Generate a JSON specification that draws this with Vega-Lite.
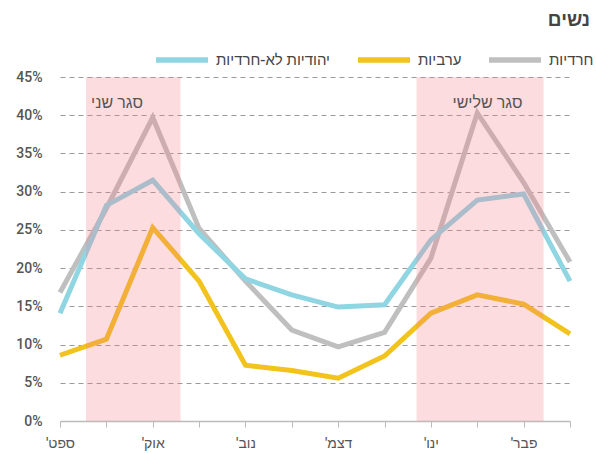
{
  "$schema": "https://vega.github.io/schema/vega-lite/v6.json",
  "width": 510,
  "height": 344,
  "autosize": {"type": "none"},
  "padding": {"left": 60, "top": 77, "right": 26, "bottom": 32},
  "background": "white",
  "title": {
    "text": "נשים",
    "anchor": "end",
    "frame": "group",
    "orient": "top",
    "fontSize": 19,
    "fontWeight": "bold",
    "color": "#444",
    "font": "Roboto, Liberation Sans, sans-serif",
    "dx": 20,
    "offset": 12,
    "dy": 11
  },
  "config": {
    "view": {"stroke": null},
    "font": "Roboto, Liberation Sans, sans-serif"
  },
  "datasets": {
    "series": [
      {"t": 0, "group": "חרדיות", "value": 16.8},
      {"t": 1, "group": "חרדיות", "value": 27.8},
      {"t": 2, "group": "חרדיות", "value": 39.7},
      {"t": 3, "group": "חרדיות", "value": 25.2},
      {"t": 4, "group": "חרדיות", "value": 18.3},
      {"t": 5, "group": "חרדיות", "value": 11.9},
      {"t": 6, "group": "חרדיות", "value": 9.7},
      {"t": 7, "group": "חרדיות", "value": 11.6},
      {"t": 8, "group": "חרדיות", "value": 21.3},
      {"t": 9, "group": "חרדיות", "value": 40.3},
      {"t": 10, "group": "חרדיות", "value": 31.2},
      {"t": 11, "group": "חרדיות", "value": 20.8},
      {"t": 0, "group": "יהודיות לא-חרדיות", "value": 14.1},
      {"t": 1, "group": "יהודיות לא-חרדיות", "value": 28.2},
      {"t": 2, "group": "יהודיות לא-חרדיות", "value": 31.5},
      {"t": 3, "group": "יהודיות לא-חרדיות", "value": 24.5},
      {"t": 4, "group": "יהודיות לא-חרדיות", "value": 18.6},
      {"t": 5, "group": "יהודיות לא-חרדיות", "value": 16.5},
      {"t": 6, "group": "יהודיות לא-חרדיות", "value": 14.9},
      {"t": 7, "group": "יהודיות לא-חרדיות", "value": 15.2},
      {"t": 8, "group": "יהודיות לא-חרדיות", "value": 23.7},
      {"t": 9, "group": "יהודיות לא-חרדיות", "value": 28.9},
      {"t": 10, "group": "יהודיות לא-חרדיות", "value": 29.7},
      {"t": 11, "group": "יהודיות לא-חרדיות", "value": 18.3},
      {"t": 0, "group": "ערביות", "value": 8.6},
      {"t": 1, "group": "ערביות", "value": 10.7},
      {"t": 2, "group": "ערביות", "value": 25.3},
      {"t": 3, "group": "ערביות", "value": 18.3},
      {"t": 4, "group": "ערביות", "value": 7.3},
      {"t": 5, "group": "ערביות", "value": 6.6},
      {"t": 6, "group": "ערביות", "value": 5.6},
      {"t": 7, "group": "ערביות", "value": 8.5},
      {"t": 8, "group": "ערביות", "value": 14.1},
      {"t": 9, "group": "ערביות", "value": 16.5},
      {"t": 10, "group": "ערביות", "value": 15.3},
      {"t": 11, "group": "ערביות", "value": 11.4}
    ],
    "bands": [
      {"t": 0.56, "t2": 2.6, "value": 0, "value2": 45},
      {"t": 7.69, "t2": 10.43, "value": 0, "value2": 45}
    ],
    "notes": [
      {"t": 1.23, "value": 41.6, "label": "סגר שני"},
      {"t": 9.22, "value": 41.6, "label": "סגר שלישי"}
    ]
  },
  "encoding": {
    "x": {
      "field": "t",
      "type": "quantitative",
      "scale": {"domain": [0, 11], "nice": false, "zero": false},
      "axis": {
        "title": null,
        "values": [0, 1, 2, 3, 4, 5, 6, 7, 8, 9, 10, 11],
        "labelExpr": "datum.value % 2 == 0 ? [\"ספט'\u200f\", \"אוק'\u200f\", \"נוב'\u200f\", \"דצמ'\u200f\", \"ינו'\u200f\", \"פבר'\u200f\"][datum.value / 2] : ''",
        "grid": false,
        "domainColor": "#bbbbbb",
        "domainWidth": 1.5,
        "tickColor": "#bbbbbb",
        "tickSize": 6,
        "tickWidth": 1,
        "labelFontSize": 14,
        "labelFontWeight": 500,
        "labelColor": "#555555",
        "labelPadding": 9,
        "labelFlush": false,
        "labelOverlap": false
      }
    },
    "y": {
      "field": "value",
      "type": "quantitative",
      "scale": {"domain": [0, 45], "nice": false, "zero": true},
      "axis": {
        "title": null,
        "values": [0, 5, 10, 15, 20, 25, 30, 35, 40, 45],
        "labelExpr": "datum.value + '%'",
        "labelOverlap": false,
        "labelFlush": false,
        "domain": false,
        "ticks": false,
        "grid": true,
        "gridColor": "#9a9a9a",
        "gridDash": [5, 4],
        "gridWidth": 1,
        "labelFontSize": 14,
        "labelFontWeight": 500,
        "labelColor": "#555555",
        "labelPadding": 18
      }
    }
  },
  "layer": [
    {
      "data": {"name": "series"},
      "mark": {"type": "line", "strokeWidth": 5, "strokeJoin": "miter"},
      "encoding": {
        "color": {
          "field": "group",
          "type": "nominal",
          "scale": {
            "domain": ["יהודיות לא-חרדיות", "ערביות", "חרדיות"],
            "range": ["#8fd5e2", "#f1c31c", "#bfbfbf"]
          },
          "legend": {
            "title": null,
            "orient": "none",
            "direction": "horizontal",
            "legendX": 93,
            "legendY": -46,
            "symbolType": "stroke",
            "symbolSize": 2700,
            "symbolStrokeWidth": 5.5,
            "labelFontSize": 15,
            "labelFontWeight": 500,
            "labelColor": "#444444",
            "labelOffset": 5,
            "columnPadding": 16
          }
        }
      }
    },
    {
      "data": {"name": "bands"},
      "mark": {"type": "rect", "color": "#f77d89", "opacity": 0.27},
      "encoding": {
        "x2": {"field": "t2"},
        "y2": {"field": "value2"}
      }
    },
    {
      "data": {"name": "notes"},
      "mark": {"type": "text", "fontSize": 16, "fontWeight": 500, "color": "#555555", "align": "center", "baseline": "middle"},
      "encoding": {
        "text": {"field": "label"}
      }
    }
  ]
}
